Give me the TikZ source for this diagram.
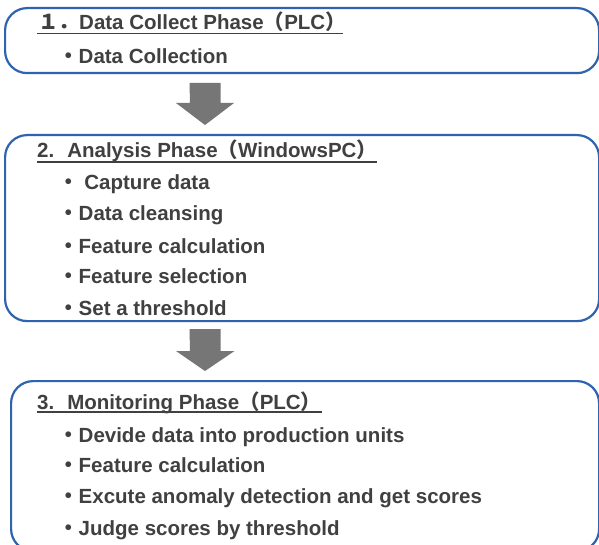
\documentclass[tikz,border=0pt]{standalone}
\usepackage{fontspec}
\setmainfont{Liberation Sans}
\newfontfamily\cjk{Noto Sans CJK JP}
\definecolor{boxblue}{HTML}{2E63B0}
\definecolor{txt}{HTML}{404040}
\definecolor{arrowgray}{HTML}{767676}
\begin{document}
\begin{tikzpicture}[x=1pt,y=-1pt,
  font=\fontsize{20.5}{24}\selectfont\bfseries,
  phase/.style={draw=boxblue, line width=2.2pt, rounded corners=22pt, anchor=north west, inner sep=0pt},
  txtnode/.style={anchor=base west, inner sep=0pt, text=txt},
  uline/.style={draw=txt, line width=1.3pt},
  bigarrow/.style={fill=arrowgray}]
\clip (0,0) rectangle (599,545);
\fill[white] (0,0) rectangle (599,545);
% boxes
\node[phase, minimum width=594pt, minimum height=65pt] (box1) at (4,7) {};
\node[phase, minimum width=594pt, minimum height=186pt] (box2) at (4,134) {};
\node[phase, minimum width=588pt, minimum height=170pt] (box3) at (10,380) {};
% arrows
\coordinate (a1) at (205,83);
\coordinate (a2) at (205,329);
\fill[bigarrow] (a1) ++(-15.5,0) -- ++(31,0) -- ++(0,20) -- ++(13.5,0) -- (205,125) -- ++(-29,-22) -- ++(14,0) -- cycle;
\fill[bigarrow] (a2) ++(-15.5,0) -- ++(31,0) -- ++(0,22) -- ++(14,0) -- (205,371) -- ++(-29,-20) -- ++(14,0) -- cycle;
% phase 1
\node[txtnode] (t1) at (38,30) {{\cjk １．}Data Collect Phase{\cjk （}PLC{\cjk ）}};
\coordinate (u1a) at (37,33.5); \coordinate (u1b) at (343,33.5);
\draw[uline] (u1a) -- (u1b);
\node[txtnode] (i11) at (58,64) {{\cjk ・}Data Collection};
% phase 2
\node[txtnode] (t2) at (37,158) {2.\hspace{13pt}Analysis Phase{\cjk （}WindowsPC{\cjk ）}};
\coordinate (u2a) at (37,162); \coordinate (u2b) at (377,162);
\draw[uline] (u2a) -- (u2b);
\node[txtnode] (i21) at (58,190) {{\cjk ・} Capture data};
\node[txtnode] (i22) at (58,221) {{\cjk ・}Data cleansing};
\node[txtnode] (i23) at (58,253) {{\cjk ・}Feature calculation};
\node[txtnode] (i24) at (58,283) {{\cjk ・}Feature selection};
\node[txtnode] (i25) at (58,315) {{\cjk ・}Set a threshold};
% phase 3
\node[txtnode] (t3) at (37,409) {3.\hspace{13pt}Monitoring Phase{\cjk （}PLC{\cjk ）}};
\coordinate (u3a) at (37,412); \coordinate (u3b) at (322,412);
\draw[uline] (u3a) -- (u3b);
\node[txtnode] (i31) at (58,442) {{\cjk ・}Devide data into production units};
\node[txtnode] (i32) at (58,472) {{\cjk ・}Feature calculation};
\node[txtnode] (i33) at (58,503) {{\cjk ・}Excute anomaly detection and get scores};
\node[txtnode] (i34) at (58,535) {{\cjk ・}Judge scores by threshold};
\end{tikzpicture}
\end{document}
